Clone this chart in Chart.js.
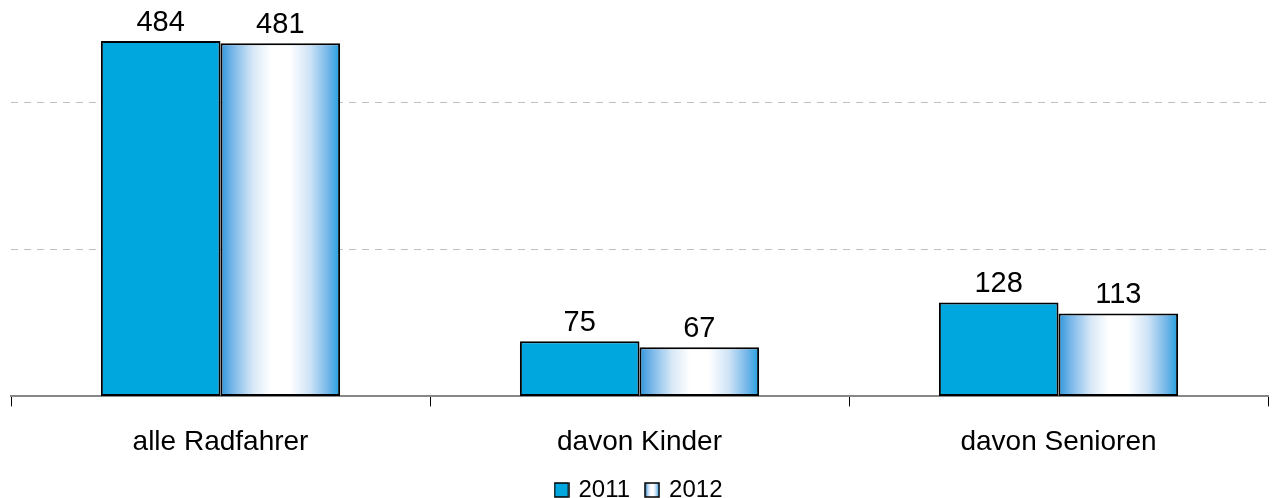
<!DOCTYPE html>
<html>
<head>
<meta charset="utf-8">
<script src="https://cdn.jsdelivr.net/npm/chart.js@4/dist/chart.umd.min.js"></script>
<style>
  body { margin: 0; background: #fff; }
  #wrap { width: 1274px; height: 498px; }
</style>
</head>
<body>
<div id="wrap"><canvas id="myChart"></canvas></div>
<script>
// ---------------------------------------------------------------------- DATA
const categories = ["alle Radfahrer", "davon Kinder", "davon Senioren"];
const values2011 = [484, 75, 128];
const values2012 = [481, 67, 113];
const seriesLabels = ["2011", "2012"];
const gridValues = [200, 400];

// ---------------------------------------------------------------------- STYLE
const FONT = "'Liberation Sans', Arial, Helvetica, sans-serif";
const blue = "rgb(0,166,222)";
const catPct = 0.571;

// horizontal "cylinder" gradient used by the 2012 bars
function addStops(g) {
  g.addColorStop(0, "rgb(45,150,220)");
  g.addColorStop(0.1, "rgb(120,182,232)");
  g.addColorStop(0.27, "rgb(215,232,247)");
  g.addColorStop(0.42, "#ffffff");
  g.addColorStop(0.58, "#ffffff");
  g.addColorStop(0.75, "rgb(205,227,246)");
  g.addColorStop(0.9, "rgb(115,182,232)");
  g.addColorStop(1, "rgb(35,160,224)");
  return g;
}

function fill2012(ctx) {
  const chart = ctx.chart;
  const x = chart.scales.x;
  if (ctx.type !== "data" || !x) return blue;
  const catW = (x.right - x.left) / categories.length;
  const left = x.getPixelForValue(ctx.dataIndex);
  const right = left + (catW * catPct) / 2;
  return addStops(chart.ctx.createLinearGradient(left, 0, right, 0));
}

function legendIcon(i) {
  const c = document.createElement("canvas");
  c.width = 16;
  c.height = 16;
  const g = c.getContext("2d");
  g.fillStyle = i === 0 ? blue : addStops(g.createLinearGradient(1, 0, 15, 0));
  g.fillRect(1, 1, 14, 14);
  g.strokeStyle = "#000";
  g.lineWidth = 1.5;
  g.strokeRect(1, 1, 14, 14);
  return c;
}

// value labels above the bars
const valueLabels = {
  id: "valueLabels",
  afterDatasetsDraw(chart) {
    const ctx = chart.ctx;
    ctx.save();
    ctx.font = "29px " + FONT;
    ctx.fillStyle = "#000";
    ctx.textAlign = "center";
    ctx.textBaseline = "alphabetic";
    chart.data.datasets.forEach((ds, di) => {
      chart.getDatasetMeta(di).data.forEach((bar, i) => {
        ctx.fillText(String(ds.data[i]), bar.x, bar.y - 10);
      });
    });
    ctx.restore();
  },
};

// ---------------------------------------------------------------------- CHART
new Chart(document.getElementById("myChart"), {
  type: "bar",
  data: {
    labels: categories,
    datasets: [
      {
        label: seriesLabels[0],
        data: values2011,
        backgroundColor: blue,
        borderColor: "#000",
        borderWidth: 2,
        borderSkipped: false,
      },
      {
        label: seriesLabels[1],
        data: values2012,
        backgroundColor: fill2012,
        borderColor: "#000",
        borderWidth: 2,
        borderSkipped: false,
      },
    ],
  },
  options: {
    responsive: true,
    maintainAspectRatio: false,
    animation: false,
    datasets: { bar: { categoryPercentage: catPct, barPercentage: 1 } },
    layout: { padding: { left: 11, right: 6, top: 0, bottom: -14 } },
    scales: {
      x: {
        offset: true,
        afterFit: (scale) => {
          scale.height -= 17;
        },
        grid: {
          offset: true,
          drawOnChartArea: false,
          drawTicks: true,
          tickLength: 10,
          color: "#000",
          lineWidth: 1,
        },
        border: { display: true, color: "#888", width: 2 },
        ticks: {
          padding: 19,
          color: "#000",
          font: { family: FONT, size: 28 },
          maxRotation: 0,
        },
      },
      y: {
        min: 0,
        max: 540,
        afterBuildTicks: (scale) => {
          scale.ticks = [0].concat(gridValues).map((v) => ({ value: v }));
        },
        ticks: { display: false },
        border: { display: false, dash: [7, 6] },
        grid: {
          drawTicks: false,
          color: (c) => (c.tick && gridValues.includes(c.tick.value) ? "#c0c0c0" : "rgba(0,0,0,0)"),
          lineWidth: 1,
        },
      },
    },
    plugins: {
      legend: {
        position: "bottom",
        labels: {
          usePointStyle: true,
          boxWidth: 10,
          boxHeight: 16,
          padding: 17,
          color: "#000",
          font: { family: FONT, size: 24 },
          generateLabels: (chart) =>
            chart.data.datasets.map((ds, i) => ({
              text: ds.label,
              pointStyle: legendIcon(i),
              datasetIndex: i,
              hidden: false,
              lineWidth: 0,
              fillStyle: "rgba(0,0,0,0)",
              strokeStyle: "rgba(0,0,0,0)",
              fontColor: "#000",
            })),
        },
      },
      tooltip: { enabled: false },
    },
  },
  plugins: [valueLabels],
});
</script>
</body>
</html>
